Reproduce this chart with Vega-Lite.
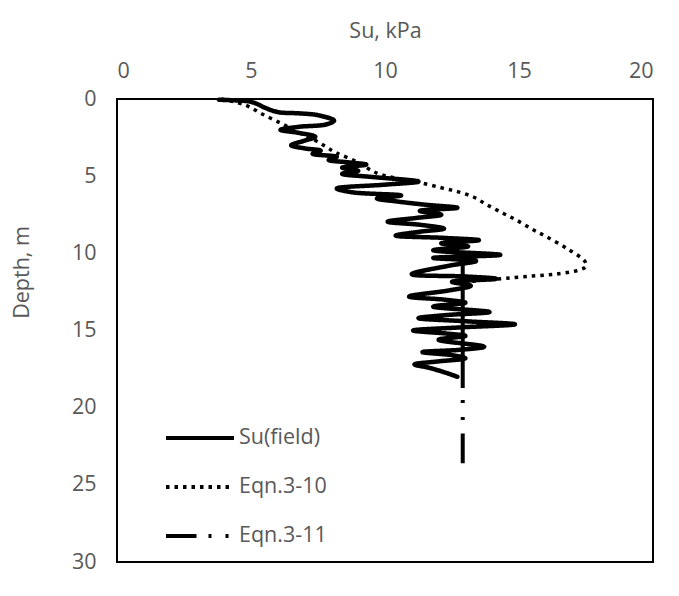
{
  "$schema": "https://vega.github.io/schema/vega-lite/v6.json",
  "width": 536,
  "height": 463,
  "autosize": {"type": "none"},
  "padding": {"left": 117, "top": 99, "right": 26, "bottom": 34},
  "background": "white",
  "config": {
    "font": "Open Sans",
    "view": {"stroke": "#000000", "strokeWidth": 2},
    "axis": {"labelColor": "#595959", "titleColor": "#595959", "labelFontSize": 21.5, "titleFontSize": 21.5, "titleFontWeight": "normal", "ticks": false, "domain": false, "grid": false, "labelFont": "Open Sans", "titleFont": "Open Sans"},
    "legend": {"orient": "none", "legendX": 47, "legendY": 303, "symbolType": "stroke", "symbolSize": 4624, "symbolStrokeWidth": 4, "symbolStrokeColor": "#000000", "labelFontSize": 21.5, "labelColor": "#595959", "labelFont": "Open Sans", "labelOffset": 3}
  },
  "data": {"values": [
    {"series": "Su(field)", "seg": 0, "su": 3.8, "depth": 0.05},
    {"series": "Su(field)", "seg": 0, "su": 4.3, "depth": 0.08},
    {"series": "Su(field)", "seg": 0, "su": 4.9, "depth": 0.15},
    {"series": "Su(field)", "seg": 0, "su": 5.2, "depth": 0.3},
    {"series": "Su(field)", "seg": 0, "su": 5.5, "depth": 0.55},
    {"series": "Su(field)", "seg": 0, "su": 6.0, "depth": 0.85},
    {"series": "Su(field)", "seg": 0, "su": 6.8, "depth": 0.93},
    {"series": "Su(field)", "seg": 0, "su": 7.5, "depth": 1.05},
    {"series": "Su(field)", "seg": 0, "su": 8.1, "depth": 1.4},
    {"series": "Su(field)", "seg": 0, "su": 7.8, "depth": 1.65},
    {"series": "Su(field)", "seg": 0, "su": 6.8, "depth": 1.8},
    {"series": "Su(field)", "seg": 0, "su": 6.1, "depth": 2.0},
    {"series": "Su(field)", "seg": 0, "su": 6.8, "depth": 2.2},
    {"series": "Su(field)", "seg": 0, "su": 7.4, "depth": 2.45},
    {"series": "Su(field)", "seg": 0, "su": 7.0, "depth": 2.7},
    {"series": "Su(field)", "seg": 0, "su": 6.5, "depth": 3.0},
    {"series": "Su(field)", "seg": 0, "su": 7.0, "depth": 3.2},
    {"series": "Su(field)", "seg": 0, "su": 7.6, "depth": 3.35},
    {"series": "Su(field)", "seg": 0, "su": 7.3, "depth": 3.55},
    {"series": "Su(field)", "seg": 0, "su": 8.2, "depth": 3.75},
    {"series": "Su(field)", "seg": 0, "su": 7.9, "depth": 3.95},
    {"series": "Su(field)", "seg": 0, "su": 8.6, "depth": 4.1},
    {"series": "Su(field)", "seg": 0, "su": 9.3, "depth": 4.25},
    {"series": "Su(field)", "seg": 0, "su": 8.4, "depth": 4.45},
    {"series": "Su(field)", "seg": 0, "su": 9.0, "depth": 4.65},
    {"series": "Su(field)", "seg": 0, "su": 8.4, "depth": 4.85},
    {"series": "Su(field)", "seg": 0, "su": 9.5, "depth": 5.05},
    {"series": "Su(field)", "seg": 0, "su": 11.25, "depth": 5.35},
    {"series": "Su(field)", "seg": 0, "su": 10.0, "depth": 5.55},
    {"series": "Su(field)", "seg": 0, "su": 8.2, "depth": 5.8},
    {"series": "Su(field)", "seg": 0, "su": 8.8, "depth": 6.05},
    {"series": "Su(field)", "seg": 0, "su": 10.6, "depth": 6.25},
    {"series": "Su(field)", "seg": 0, "su": 9.7, "depth": 6.45},
    {"series": "Su(field)", "seg": 0, "su": 10.5, "depth": 6.65},
    {"series": "Su(field)", "seg": 0, "su": 11.5, "depth": 6.85},
    {"series": "Su(field)", "seg": 0, "su": 12.7, "depth": 7.05},
    {"series": "Su(field)", "seg": 0, "su": 11.3, "depth": 7.25},
    {"series": "Su(field)", "seg": 0, "su": 12.1, "depth": 7.5},
    {"series": "Su(field)", "seg": 0, "su": 11.2, "depth": 7.7},
    {"series": "Su(field)", "seg": 0, "su": 10.1, "depth": 7.95},
    {"series": "Su(field)", "seg": 0, "su": 11.3, "depth": 8.15},
    {"series": "Su(field)", "seg": 0, "su": 12.2, "depth": 8.4},
    {"series": "Su(field)", "seg": 0, "su": 11.3, "depth": 8.6},
    {"series": "Su(field)", "seg": 0, "su": 10.4, "depth": 8.85},
    {"series": "Su(field)", "seg": 0, "su": 12.2, "depth": 9.0},
    {"series": "Su(field)", "seg": 0, "su": 13.5, "depth": 9.15},
    {"series": "Su(field)", "seg": 0, "su": 12.1, "depth": 9.35},
    {"series": "Su(field)", "seg": 0, "su": 13.1, "depth": 9.55},
    {"series": "Su(field)", "seg": 0, "su": 11.8, "depth": 9.8},
    {"series": "Su(field)", "seg": 0, "su": 14.3, "depth": 10.1},
    {"series": "Su(field)", "seg": 0, "su": 11.8, "depth": 10.3},
    {"series": "Su(field)", "seg": 0, "su": 13.4, "depth": 10.5},
    {"series": "Su(field)", "seg": 0, "su": 12.4, "depth": 10.8},
    {"series": "Su(field)", "seg": 0, "su": 11.0, "depth": 11.35},
    {"series": "Su(field)", "seg": 0, "su": 13.0, "depth": 11.5},
    {"series": "Su(field)", "seg": 0, "su": 14.15, "depth": 11.65},
    {"series": "Su(field)", "seg": 0, "su": 12.5, "depth": 11.85},
    {"series": "Su(field)", "seg": 0, "su": 13.2, "depth": 12.1},
    {"series": "Su(field)", "seg": 0, "su": 12.4, "depth": 12.4},
    {"series": "Su(field)", "seg": 0, "su": 10.9, "depth": 12.8},
    {"series": "Su(field)", "seg": 0, "su": 12.2, "depth": 13.0},
    {"series": "Su(field)", "seg": 0, "su": 13.0, "depth": 13.2},
    {"series": "Su(field)", "seg": 0, "su": 11.8, "depth": 13.45},
    {"series": "Su(field)", "seg": 0, "su": 13.9, "depth": 13.8},
    {"series": "Su(field)", "seg": 0, "su": 12.3, "depth": 14.0},
    {"series": "Su(field)", "seg": 0, "su": 11.25, "depth": 14.2},
    {"series": "Su(field)", "seg": 0, "su": 13.0, "depth": 14.4},
    {"series": "Su(field)", "seg": 0, "su": 14.85, "depth": 14.6},
    {"series": "Su(field)", "seg": 0, "su": 12.8, "depth": 14.8},
    {"series": "Su(field)", "seg": 0, "su": 11.05, "depth": 15.0},
    {"series": "Su(field)", "seg": 0, "su": 12.3, "depth": 15.2},
    {"series": "Su(field)", "seg": 0, "su": 13.0, "depth": 15.35},
    {"series": "Su(field)", "seg": 0, "su": 12.0, "depth": 15.6},
    {"series": "Su(field)", "seg": 0, "su": 13.7, "depth": 16.05},
    {"series": "Su(field)", "seg": 0, "su": 12.8, "depth": 16.25},
    {"series": "Su(field)", "seg": 0, "su": 11.4, "depth": 16.4},
    {"series": "Su(field)", "seg": 0, "su": 12.5, "depth": 16.6},
    {"series": "Su(field)", "seg": 0, "su": 13.0, "depth": 16.8},
    {"series": "Su(field)", "seg": 0, "su": 12.0, "depth": 17.0},
    {"series": "Su(field)", "seg": 0, "su": 11.1, "depth": 17.2},
    {"series": "Su(field)", "seg": 0, "su": 11.6, "depth": 17.4},
    {"series": "Su(field)", "seg": 0, "su": 12.2, "depth": 17.7},
    {"series": "Su(field)", "seg": 0, "su": 12.7, "depth": 18.0},
    {"series": "Eqn.3-10", "seg": 0, "su": 3.9, "depth": 0.0},
    {"series": "Eqn.3-10", "seg": 0, "su": 4.8, "depth": 0.4},
    {"series": "Eqn.3-10", "seg": 0, "su": 5.45, "depth": 1.0},
    {"series": "Eqn.3-10", "seg": 0, "su": 6.15, "depth": 1.6},
    {"series": "Eqn.3-10", "seg": 0, "su": 6.7, "depth": 2.1},
    {"series": "Eqn.3-10", "seg": 0, "su": 7.26, "depth": 2.55},
    {"series": "Eqn.3-10", "seg": 0, "su": 7.8, "depth": 3.1},
    {"series": "Eqn.3-10", "seg": 0, "su": 8.2, "depth": 3.5},
    {"series": "Eqn.3-10", "seg": 0, "su": 8.94, "depth": 4.06},
    {"series": "Eqn.3-10", "seg": 0, "su": 9.69, "depth": 4.8},
    {"series": "Eqn.3-10", "seg": 0, "su": 10.44, "depth": 5.14},
    {"series": "Eqn.3-10", "seg": 0, "su": 11.25, "depth": 5.4},
    {"series": "Eqn.3-10", "seg": 0, "su": 12.1, "depth": 5.75},
    {"series": "Eqn.3-10", "seg": 0, "su": 12.7, "depth": 6.0},
    {"series": "Eqn.3-10", "seg": 0, "su": 13.3, "depth": 6.35},
    {"series": "Eqn.3-10", "seg": 0, "su": 13.8, "depth": 6.85},
    {"series": "Eqn.3-10", "seg": 0, "su": 14.4, "depth": 7.4},
    {"series": "Eqn.3-10", "seg": 0, "su": 14.9, "depth": 7.84},
    {"series": "Eqn.3-10", "seg": 0, "su": 15.5, "depth": 8.45},
    {"series": "Eqn.3-10", "seg": 0, "su": 16.0, "depth": 8.9},
    {"series": "Eqn.3-10", "seg": 0, "su": 16.8, "depth": 9.7},
    {"series": "Eqn.3-10", "seg": 0, "su": 17.45, "depth": 10.5},
    {"series": "Eqn.3-10", "seg": 0, "su": 17.5, "depth": 10.85},
    {"series": "Eqn.3-10", "seg": 0, "su": 17.2, "depth": 11.1},
    {"series": "Eqn.3-10", "seg": 0, "su": 16.4, "depth": 11.34},
    {"series": "Eqn.3-10", "seg": 0, "su": 15.5, "depth": 11.47},
    {"series": "Eqn.3-10", "seg": 0, "su": 14.5, "depth": 11.62},
    {"series": "Eqn.3-10", "seg": 0, "su": 13.8, "depth": 11.72},
    {"series": "Eqn.3-10", "seg": 0, "su": 13.0, "depth": 11.85},
    {"series": "Eqn.3-11", "seg": 1, "su": 12.9, "depth": 10.3},
    {"series": "Eqn.3-11", "seg": 1, "su": 12.9, "depth": 12.1},
    {"series": "Eqn.3-11", "seg": 2, "su": 12.9, "depth": 12.1},
    {"series": "Eqn.3-11", "seg": 2, "su": 12.9, "depth": 13.9},
    {"series": "Eqn.3-11", "seg": 3, "su": 12.9, "depth": 13.9},
    {"series": "Eqn.3-11", "seg": 3, "su": 12.9, "depth": 15.7},
    {"series": "Eqn.3-11", "seg": 4, "su": 12.9, "depth": 15.7},
    {"series": "Eqn.3-11", "seg": 4, "su": 12.9, "depth": 16.75},
    {"series": "Eqn.3-11", "seg": 5, "su": 12.9, "depth": 16.75},
    {"series": "Eqn.3-11", "seg": 5, "su": 12.9, "depth": 23.6}
  ]},
  "encoding": {
    "x": {"field": "su", "type": "quantitative", "scale": {"domain": [0, 20], "nice": false, "zero": false},
      "axis": {"orient": "top", "title": "Su, kPa", "values": [0, 5, 10, 15, 20], "labelPadding": 17, "titlePadding": 18}},
    "y": {"field": "depth", "type": "quantitative", "scale": {"domain": [0, 30], "reverse": true, "nice": false, "zero": false},
      "axis": {"title": "Depth, m", "values": [0, 5, 10, 15, 20, 25, 30], "labelPadding": 21, "titleX": -95, "titleY": 173, "titleAngle": -90, "titleAlign": "center", "titleBaseline": "middle"}},
    "strokeDash": {"field": "series", "type": "nominal",
      "scale": {"domain": ["Su(field)", "Eqn.3-10", "Eqn.3-11"], "range": [[1, 0], [3.5, 5], [30.5, 12, 3, 14, 3, 13.5]]},
      "legend": {"title": null}},
    "detail": {"field": "seg", "type": "nominal"},
    "order": {"field": "depth", "type": "quantitative"}
  },
  "layer": [
    {"transform": [{"filter": "datum.series === 'Su(field)'"}],
     "mark": {"type": "line", "color": "#000000", "strokeWidth": 4.5, "interpolate": "catmull-rom", "strokeJoin": "round", "strokeCap": "round"}},
    {"transform": [{"filter": "datum.series === 'Eqn.3-10'"}],
     "mark": {"type": "line", "color": "#000000", "strokeWidth": 3.5, "interpolate": "catmull-rom"}},
    {"transform": [{"filter": "datum.series === 'Eqn.3-11'"}],
     "mark": {"type": "line", "color": "#000000", "strokeWidth": 4}}
  ]
}
